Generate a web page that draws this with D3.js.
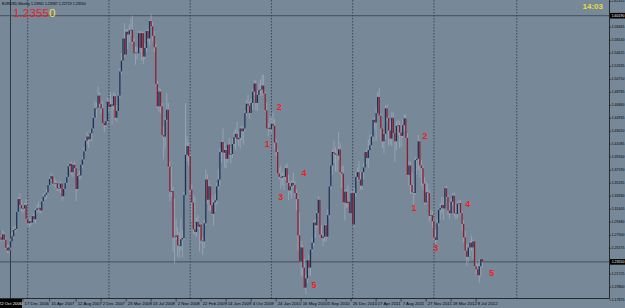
<!DOCTYPE html>
<html>
<head>
<meta charset="utf-8">
<script src="https://cdn.jsdelivr.net/npm/d3@7"></script>
<style>
  html, body { margin: 0; padding: 0; background: #778899; overflow: hidden; }
  svg { display: block; }
  .small { font-family: "Liberation Sans", Arial, sans-serif; font-size: 4.3px; fill: #000; }
  .price { font-family: "Liberation Sans", Arial, sans-serif; font-size: 3.5px; fill: #000; }
  .wave { font-family: "Liberation Sans", Arial, sans-serif; font-size: 9px; font-weight: bold; fill: #f01e1e; }
</style>
</head>
<body>
<div class="mt-wrapper"></div>
<script>
// EURUSD weekly, one value per week starting 27 Aug 2006 (open = previous close)
const firstOpen = 1.2790

const closes = [
  1.2815,1.2720,1.2685,1.2765,1.2685,1.2565,1.2525,1.2570,1.2660,1.2735,1.2830,1.2845,1.3100,1.3290,1.3200,1.3150,1.3150,1.3200,1.2995,
  1.2930,1.2960,1.2940,1.3035,1.2990,1.3125,1.3150,1.3160,1.3120,1.3255,1.3325,1.3355,1.3385,1.3500,1.3590,1.3630,1.3520,1.3520,1.3525,1.3450,1.3450,1.3520,1.3330,1.3440,1.3530,1.3620,1.3780,1.3815,1.3690,1.3800,1.3750,1.3440,1.3630,1.3640,1.3800,1.3880,1.4000,1.4160,1.4220,1.4180,1.4270,1.4340,1.4500,1.4640,1.4650,1.4830,1.4710,1.4640,1.4420,1.4390,1.4450,1.4740,
  1.4660,1.4700,1.4680,1.4820,1.4500,1.4600,1.4830,1.5190,1.5350,1.5680,1.5440,1.5780,1.5740,1.5800,1.5810,1.5630,1.5460,1.5470,1.5460,1.5760,1.5540,1.5760,1.5410,1.5540,1.5790,1.5680,1.5940,1.5860,1.5720,1.5550,1.5000,1.4670,1.4890,1.4670,1.4240,1.4220,1.4470,1.4620,1.3770,1.3400,1.3410,1.2720,1.2730,1.2750,1.2600,1.2590,1.2690,1.2710,1.3350,1.3950,1.4080,1.3930,
  1.3430,1.3240,1.2840,1.2800,1.2950,1.2880,1.2910,1.2670,1.2660,1.2930,1.3580,1.3280,1.3480,1.3200,1.3070,1.3240,1.3270,1.3480,1.3580,1.3990,1.4140,1.3980,1.4020,1.3890,1.4100,1.3950,1.3960,1.4110,1.4210,1.4260,1.4180,1.4200,1.4340,1.4300,1.4340,1.4570,1.4710,1.4680,1.4570,1.4720,1.4890,1.5010,1.4720,1.4840,1.4910,1.4920,1.4980,1.4860,1.4610,1.4340,1.4350,1.4330,
  1.4410,1.4380,1.4130,1.3990,1.3670,1.3620,1.3610,1.3630,1.3620,1.3750,1.3530,1.3420,1.3480,1.3530,1.3500,1.3380,1.3290,1.2750,1.2360,1.2570,1.2270,1.1970,1.2110,1.2380,1.2270,1.2540,1.2640,1.2940,1.2900,1.3080,1.3280,1.2760,1.2710,1.2730,1.2900,1.2730,1.3050,1.3480,1.3790,1.3990,1.3970,1.3950,1.3940,1.4030,1.3690,1.3670,1.3240,1.3400,1.3230,1.3250,1.3080,1.3380,
  1.2910,1.3380,1.3620,1.3690,1.3580,1.3490,1.3690,1.3760,1.3990,1.3900,1.4020,1.4090,1.4220,1.4470,1.4430,1.4570,1.4810,1.4530,1.4340,1.4150,1.4260,1.4640,1.4500,1.4310,1.4190,1.4500,1.4270,1.4150,1.4380,1.4390,1.4280,1.4230,1.4390,1.4490,1.4200,1.3650,1.3790,1.3500,1.3390,1.3380,1.3870,1.3890,1.4150,1.3790,1.3750,1.3520,1.3240,1.3390,1.3380,1.3040,1.3050,1.2960,
  1.2720,1.2680,1.2930,1.3130,1.3160,1.3200,1.3150,1.3450,1.3320,1.3120,1.3080,1.3250,1.3340,1.3080,1.3070,1.3220,1.3230,1.3080,1.2920,1.2720,1.2520,1.2430,1.2570,1.2640,1.2570,1.2660,1.2290,1.2245,1.2155,1.2290,1.2396,1.2355
]

const highs = [
  1.2870,1.2850,1.2765,1.2830,1.2795,1.2715,1.2605,1.2610,1.2705,1.2800,1.2880,1.2900,1.3110,1.3320,1.3367,1.3280,1.3200,1.3230,1.3290,
  1.3010,1.2990,1.3015,1.3050,1.3080,1.3150,1.3210,1.3250,1.3195,1.3285,1.3370,1.3390,1.3440,1.3520,1.3620,1.3680,1.3640,1.3620,1.3575,1.3540,1.3495,1.3560,1.3520,1.3460,1.3550,1.3640,1.3800,1.3840,1.3852,1.3830,1.3850,1.3760,1.3650,1.3710,1.3810,1.3920,1.4070,1.4190,1.4285,1.4245,1.4320,1.4345,1.4530,1.4750,1.4730,1.4967,1.4880,1.4740,1.4750,1.4420,1.4480,1.4790,
  1.4780,1.4880,1.4790,1.4880,1.4860,1.4690,1.4860,1.5240,1.5460,1.5700,1.5905,1.5825,1.5820,1.5890,1.5980,1.6019,1.5690,1.5560,1.5560,1.5790,1.5790,1.5790,1.5780,1.5610,1.5800,1.5830,1.5960,1.6038,1.5930,1.5790,1.5600,1.5050,1.4950,1.4930,1.4720,1.4370,1.4500,1.4866,1.4720,1.3850,1.3770,1.3470,1.3300,1.3000,1.2870,1.2800,1.3000,1.2830,1.3400,1.4719,1.4230,1.4140,
  1.3960,1.3510,1.3360,1.3320,1.3010,1.3060,1.2920,1.2930,1.2720,1.2980,1.3738,1.3660,1.3570,1.3500,1.3340,1.3270,1.3370,1.3530,1.3740,1.4050,1.4160,1.4340,1.4130,1.4050,1.4110,1.4200,1.4050,1.4190,1.4300,1.4330,1.4445,1.4300,1.4360,1.4380,1.4370,1.4600,1.4760,1.4840,1.4740,1.4780,1.4930,1.5060,1.5060,1.4910,1.5020,1.5070,1.5144,1.5140,1.4890,1.4730,1.4420,1.4510,
  1.4510,1.4580,1.4480,1.4190,1.4030,1.3760,1.3790,1.3690,1.3740,1.3790,1.3820,1.3650,1.3550,1.3560,1.3690,1.3560,1.3440,1.3330,1.3090,1.2670,1.2600,1.2400,1.2160,1.2390,1.2460,1.2560,1.2720,1.2960,1.2990,1.3110,1.3333,1.3300,1.2900,1.2780,1.2910,1.2920,1.3140,1.3500,1.3800,1.4030,1.4160,1.4060,1.4010,1.4282,1.4120,1.3790,1.3780,1.3420,1.3440,1.3500,1.3260,1.3420,
  1.3400,1.3460,1.3690,1.3760,1.3860,1.3690,1.3700,1.3830,1.4000,1.4040,1.4180,1.4250,1.4250,1.4490,1.4510,1.4650,1.4880,1.4940,1.4560,1.4350,1.4290,1.4680,1.4700,1.4530,1.4450,1.4580,1.4580,1.4240,1.4450,1.4470,1.4450,1.4400,1.4480,1.4550,1.4550,1.4270,1.3850,1.3840,1.3680,1.3510,1.3910,1.3910,1.4247,1.4170,1.3870,1.3790,1.3620,1.3550,1.3520,1.3430,1.3130,1.3120,
  1.2990,1.2840,1.3000,1.3150,1.3230,1.3320,1.3320,1.3460,1.3486,1.3350,1.3240,1.3300,1.3380,1.3385,1.3210,1.3250,1.3270,1.3280,1.3110,1.2980,1.2820,1.2620,1.2630,1.2670,1.2750,1.2690,1.2670,1.2370,1.2330,1.2390,1.2405,1.2399
]

const lows = [
  1.2765,1.2700,1.2655,1.2680,1.2655,1.2545,1.2485,1.2490,1.2530,1.2660,1.2700,1.2790,1.2830,1.3090,1.3180,1.3110,1.3080,1.3120,1.2985,
  1.2880,1.2865,1.2890,1.2925,1.2960,1.2930,1.3080,1.3100,1.3070,1.3100,1.3230,1.3280,1.3300,1.3350,1.3490,1.3570,1.3500,1.3480,1.3450,1.3410,1.3410,1.3380,1.3260,1.3300,1.3420,1.3510,1.3610,1.3730,1.3650,1.3620,1.3700,1.3260,1.3420,1.3580,1.3590,1.3750,1.3860,1.3980,1.4100,1.4050,1.4150,1.4150,1.4320,1.4480,1.4500,1.4640,1.4660,1.4560,1.4400,1.4280,1.4360,1.4420,
  1.4580,1.4650,1.4400,1.4620,1.4460,1.4440,1.4590,1.4790,1.5150,1.5330,1.5400,1.5430,1.5520,1.5620,1.5720,1.5600,1.5450,1.5290,1.5370,1.5450,1.5480,1.5350,1.5300,1.5370,1.5480,1.5630,1.5580,1.5850,1.5640,1.5480,1.4980,1.4640,1.4580,1.4570,1.4210,1.3880,1.4040,1.4440,1.3750,1.3260,1.3320,1.2500,1.2330,1.2680,1.2430,1.2420,1.2530,1.2420,1.2680,1.3350,1.3850,1.3790,
  1.3360,1.2960,1.2770,1.2760,1.2730,1.2850,1.2510,1.2630,1.2457,1.2560,1.2900,1.3220,1.3110,1.3110,1.3050,1.2890,1.3100,1.3210,1.3430,1.3490,1.3830,1.3960,1.3760,1.3750,1.3840,1.3930,1.3820,1.3900,1.4070,1.4020,1.4160,1.4080,1.4040,1.4160,1.4100,1.4300,1.4530,1.4580,1.4480,1.4560,1.4620,1.4830,1.4610,1.4600,1.4830,1.4830,1.4830,1.4850,1.4590,1.4330,1.4220,1.4300,
  1.4260,1.4360,1.4030,1.3930,1.3660,1.3580,1.3440,1.3490,1.3430,1.3570,1.3510,1.3270,1.3360,1.3290,1.3450,1.3320,1.3120,1.2520,1.2350,1.2140,1.2150,1.1960,1.1876,1.2040,1.2150,1.2150,1.2500,1.2580,1.2710,1.2860,1.3050,1.2730,1.2700,1.2590,1.2650,1.2660,1.2710,1.3000,1.3440,1.3650,1.3830,1.3700,1.3690,1.3870,1.3660,1.3450,1.3220,1.2970,1.3160,1.3170,1.3070,1.3090,
  1.2900,1.2871,1.3320,1.3560,1.3560,1.3430,1.3430,1.3580,1.3750,1.3810,1.3750,1.4050,1.4050,1.4140,1.4330,1.4150,1.4570,1.4520,1.4160,1.4050,1.3970,1.4170,1.4440,1.4080,1.4100,1.4080,1.4250,1.3840,1.4020,1.4240,1.4050,1.4060,1.4200,1.4300,1.4190,1.3640,1.3490,1.3370,1.3360,1.3145,1.3350,1.3650,1.3720,1.3610,1.3480,1.3420,1.3210,1.3210,1.3260,1.2950,1.2980,1.2860,
  1.2660,1.2624,1.2660,1.2890,1.2980,1.3070,1.2980,1.3150,1.3300,1.3050,1.2990,1.3110,1.3190,1.3030,1.2990,1.3000,1.3080,1.3060,1.2820,1.2640,1.2500,1.2290,1.2350,1.2440,1.2520,1.2400,1.2270,1.2165,1.2150,1.2042,1.2135,1.2272
]

// time axis
const dateTicks = [16, 33, 50, 66, 82, 98, 114, 130, 146, 162, 178, 194, 210, 226, 242, 258, 274, 290, 306]
const dateLabels = ['17 Dec 2006', '15 Apr 2007', '12 Aug 2007', '2 Dec 2007', '23 Mar 2008', '13 Jul 2008', '2 Nov 2008',
  '22 Feb 2009', '14 Jun 2009', '4 Oct 2009', '24 Jan 2010', '16 May 2010', '5 Sep 2010', '26 Dec 2010', '17 Apr 2011',
  '7 Aug 2011', '27 Nov 2011', '18 Mar 2012', '8 Jul 2012']
const yearGrid = [19, 71, 123, 175, 227, 279, 332]

// price axis
const priceTicks = [1.62315, 1.58465, 1.56540, 1.54615, 1.52635, 1.50710, 1.48785, 1.46860, 1.44935, 1.43010, 1.41085,
  1.39160, 1.37190, 1.35265, 1.33330, 1.31405, 1.29480, 1.27500, 1.25575, 1.21725, 1.19800, 1.17875]

// objects on the chart
const hLinePrices = [1.6019, 1.2355]
const hLineLabels = ['1.60190', '1.23550']
const vLineWeek = 8
const vLineLabel = '22 Oct 2006'

const waveText = ['1', '2', '3', '4', '5', '1', '2', '3', '4', '5']
const waveWeek = [172.4, 180.0, 180.9, 195.8, 202.2, 266.2, 273.3, 280.1, 300.6, 316.0]
const wavePrice = [1.4110, 1.4665, 1.3316, 1.3682, 1.2011, 1.3153, 1.4229, 1.2557, 1.3217, 1.2185]

const symbol = 'EURUSD,Weekly'
const headerValues = ['1.23961', '1.23987', '1.22719', '1.23550']
const bigPrice = '1.23550'
const clock = '14:03'

const width = 625
const height = 308
const plotRight = 609.5
const plotBottom = 298.5

const svg = d3.select('.mt-wrapper')
  .append('svg')
  .attr('width', width)
  .attr('height', height)

svg.append('rect')
  .attr('width', width)
  .attr('height', height)
  .attr('fill', '#778899')

const x = d3.scaleLinear()
  .domain([0, 310])
  .range([-2, 482.375])

const y = d3.scaleLinear()
  .domain([1.17875, 1.58465])
  .range([300, 27.3])

const plot = svg.append('g')
const marks = svg.append('g')
const labels = svg.append('g')

// year grid (dotted)
plot.selectAll('line.grid')
  .data(yearGrid)
  .enter()
  .append('line')
  .attr('class', 'grid')
  .attr('x1', d => x(d))
  .attr('x2', d => x(d))
  .attr('y1', 0)
  .attr('y2', plotBottom)
  .attr('stroke', '#2f3742')
  .attr('stroke-width', 0.8)
  .attr('stroke-dasharray', '1.5,1.5')

// vertical line object
plot.append('line')
  .attr('x1', x(vLineWeek))
  .attr('x2', x(vLineWeek))
  .attr('y1', 0)
  .attr('y2', plotBottom)
  .attr('stroke', '#333b46')
  .attr('stroke-width', 1)

// horizontal lines
plot.selectAll('line.hline')
  .data(hLinePrices)
  .enter()
  .append('line')
  .attr('class', 'hline')
  .attr('x1', 0)
  .attr('x2', plotRight)
  .attr('y1', d => y(d))
  .attr('y2', d => y(d))
  .attr('stroke', '#3e4753')
  .attr('stroke-width', 0.9)

const bars = closes.map((c, i) => ({
  i: i,
  o: i === 0 ? firstOpen : closes[i - 1],
  h: highs[i],
  l: lows[i],
  c: c
}))

marks.selectAll('line.wick')
  .data(bars)
  .enter()
  .append('line')
  .attr('class', 'wick')
  .attr('x1', d => x(d.i))
  .attr('x2', d => x(d.i))
  .attr('y1', d => y(d.h))
  .attr('y2', d => y(d.l))
  .attr('stroke', '#aab5c3')
  .attr('stroke-width', 0.6)

marks.selectAll('rect.body')
  .data(bars)
  .enter()
  .append('rect')
  .attr('class', 'body')
  .attr('x', d => x(d.i) - 0.65)
  .attr('width', 1.3)
  .attr('y', d => y(Math.max(d.o, d.c)))
  .attr('height', d => Math.max(0.6, Math.abs(y(d.o) - y(d.c))))
  .attr('fill', d => d.c >= d.o ? '#1d2f55' : '#8a1d2e')

// wave counts
labels.selectAll('text.wave')
  .data(waveText)
  .enter()
  .append('text')
  .attr('class', 'wave')
  .attr('x', (d, i) => x(waveWeek[i]))
  .attr('y', (d, i) => y(wavePrice[i]))
  .attr('text-anchor', 'middle')
  .attr('dominant-baseline', 'central')
  .text(d => d)

// axes frame
svg.append('line')
  .attr('x1', plotRight).attr('x2', plotRight)
  .attr('y1', 0).attr('y2', plotBottom)
  .attr('stroke', '#111').attr('stroke-width', 0.8)

svg.append('line')
  .attr('x1', 0).attr('x2', plotRight)
  .attr('y1', plotBottom).attr('y2', plotBottom)
  .attr('stroke', '#111').attr('stroke-width', 0.8)

// price labels
const yAxis = svg.append('g')

yAxis.selectAll('g.tick')
  .data(priceTicks)
  .enter()
  .append('g')
  .attr('class', 'tick')
  .attr('transform', d => 'translate(' + plotRight + ',' + y(d) + ')')
  .each(function (d) {
    const g = d3.select(this)
    g.append('line').attr('x1', 0).attr('x2', 1.8).attr('stroke', '#111').attr('stroke-width', 0.6)
    g.append('text').attr('class', 'price').attr('x', 2.2).attr('dominant-baseline', 'central').text(d.toFixed(5))
  })

hLinePrices.forEach((p, i) => {
  const g = yAxis.append('g').attr('transform', 'translate(' + plotRight + ',' + y(p) + ')')
  g.append('rect').attr('x', 0.5).attr('y', -2.8).attr('width', 15).attr('height', 5.6).attr('fill', '#000')
  g.append('text').attr('class', 'price').attr('x', 2.2).attr('dominant-baseline', 'central')
    .style('fill', '#fff').text(hLineLabels[i])
})

// time labels
const xAxis = svg.append('g')

xAxis.selectAll('g.tick')
  .data(dateTicks)
  .enter()
  .append('g')
  .attr('class', 'tick')
  .attr('transform', d => 'translate(' + x(d) + ',' + plotBottom + ')')
  .each(function (d, i) {
    const g = d3.select(this)
    g.append('line').attr('y1', 0).attr('y2', 3).attr('stroke', '#111').attr('stroke-width', 0.6)
    g.append('text').attr('class', 'small').attr('x', 1.6).attr('y', 5.2).attr('dominant-baseline', 'central').text(dateLabels[i])
  })

const vl = xAxis.append('g').attr('transform', 'translate(' + x(vLineWeek) + ',' + plotBottom + ')')
vl.append('rect').attr('x', -11.5).attr('y', 0.5).attr('width', 23).attr('height', 9).attr('fill', '#000')
vl.append('text').attr('class', 'small').attr('y', 5.2).attr('text-anchor', 'middle')
  .attr('dominant-baseline', 'central').style('fill', '#fff').text(vLineLabel)

// header
svg.append('text')
  .attr('class', 'small')
  .attr('x', 2)
  .attr('y', 5)
  .style('font-size', '3.6px')
  .text(symbol + '  ' + headerValues.join(' '))

const big = svg.append('text')
  .attr('x', 13)
  .attr('y', 16.8)
  .style('font-family', '"Liberation Sans", Arial, sans-serif')
  .style('font-size', '11.8px')

big.append('tspan').attr('fill', '#e8232a').text(bigPrice.slice(0, -1))
big.append('tspan').attr('fill', '#f2e23a').text(bigPrice.slice(-1))

svg.append('text')
  .attr('x', 603)
  .attr('y', 9.4)
  .attr('text-anchor', 'end')
  .style('font-family', '"Liberation Sans", Arial, sans-serif')
  .style('font-size', '8px')
  .style('font-weight', 'bold')
  .attr('fill', '#e6dc3c')
  .text(clock)
</script>
</body>
</html>
